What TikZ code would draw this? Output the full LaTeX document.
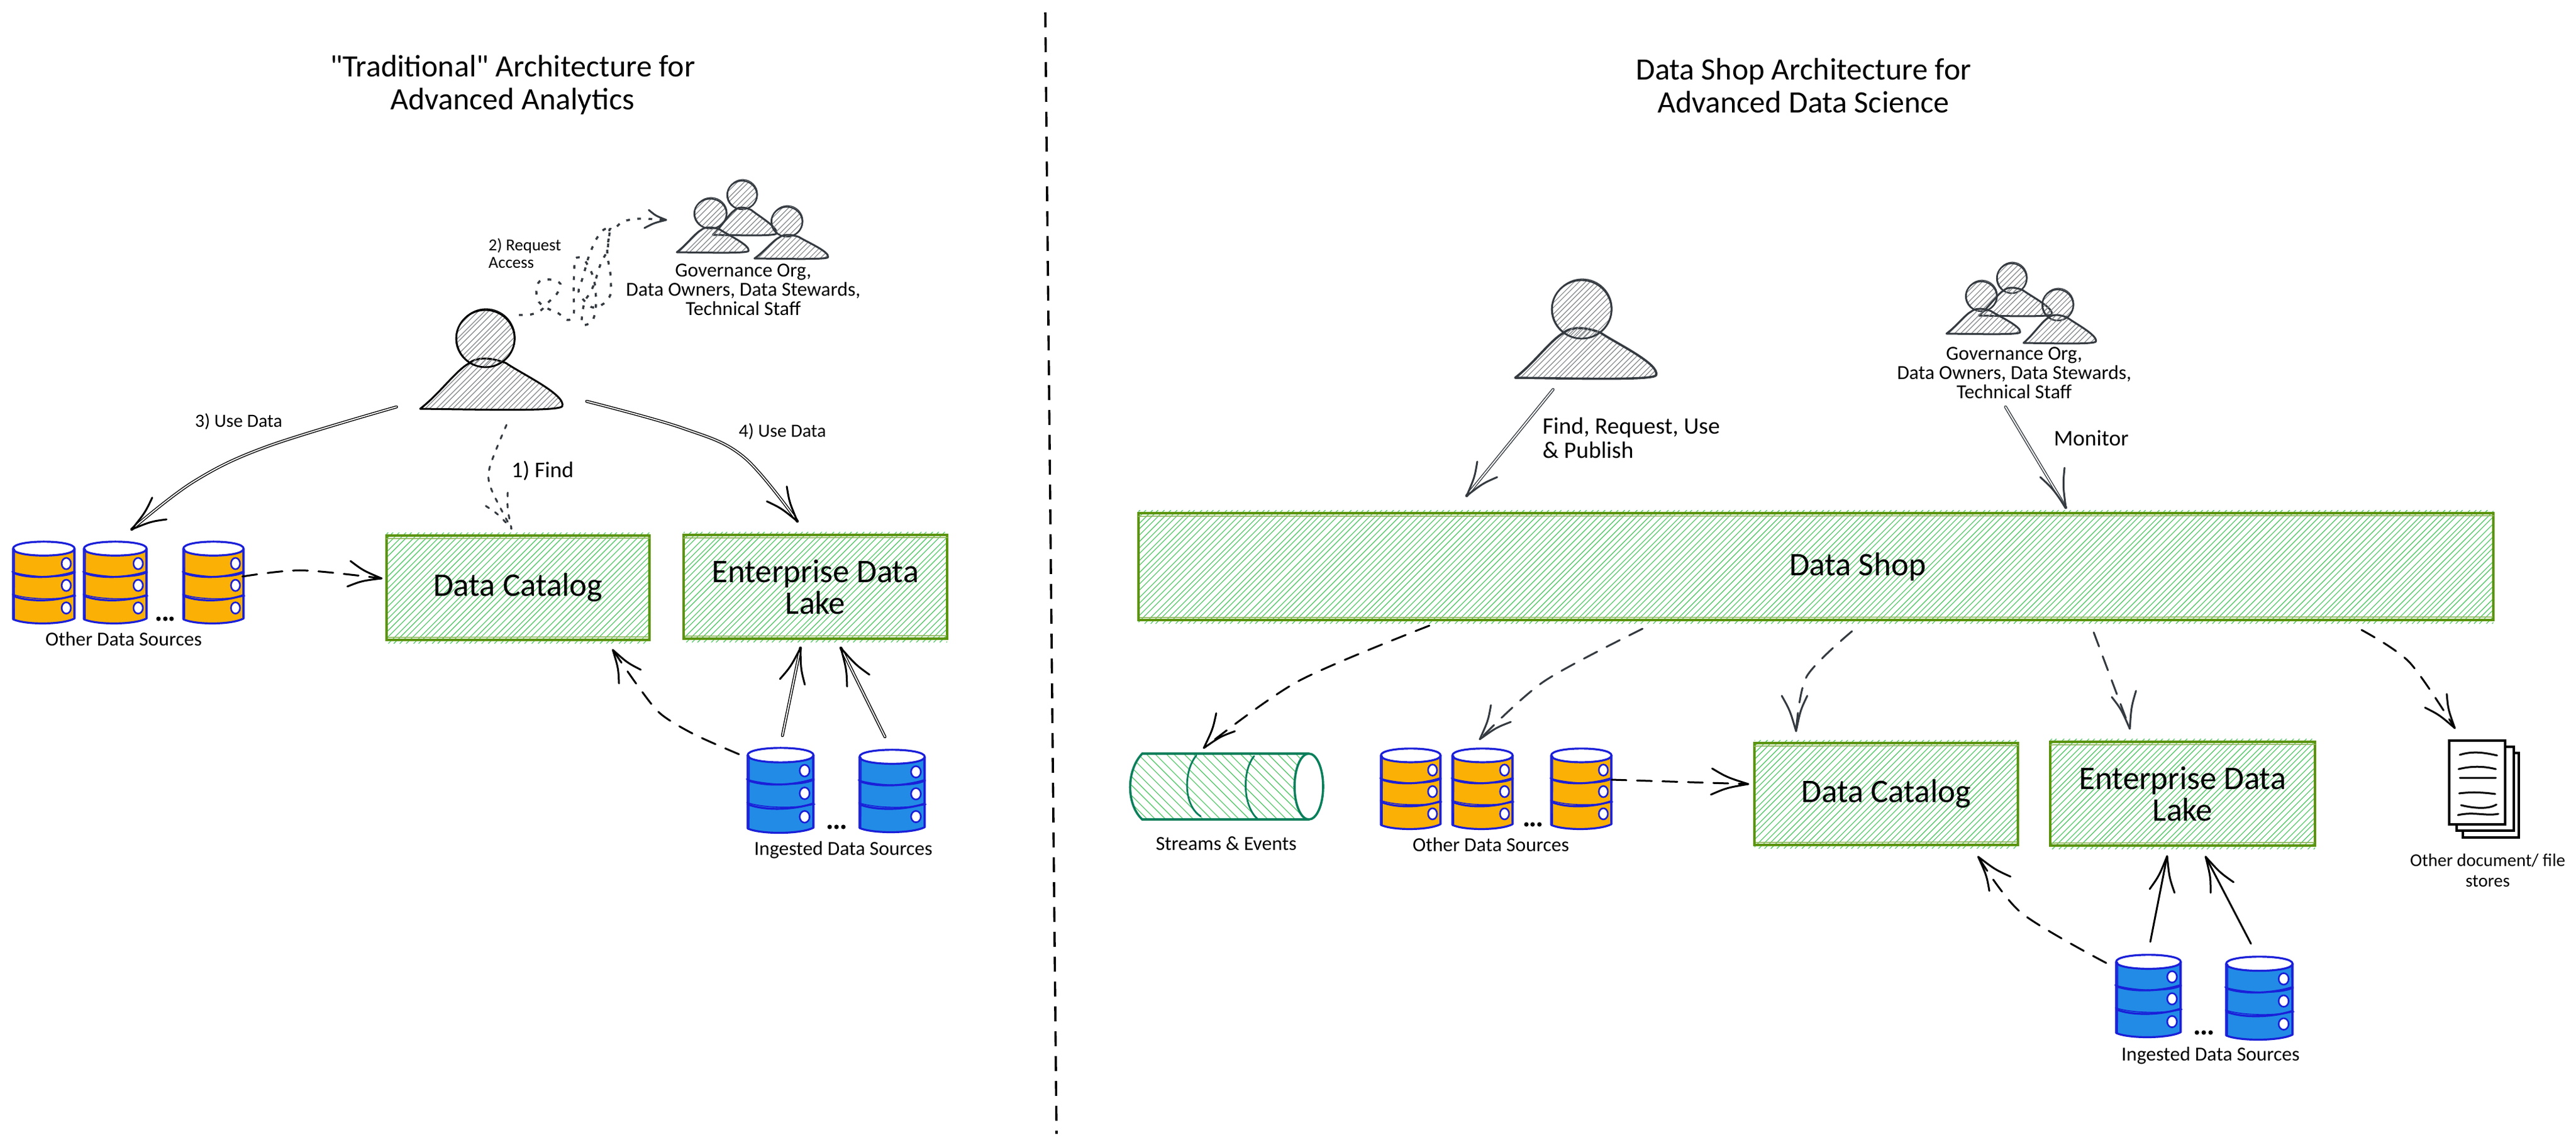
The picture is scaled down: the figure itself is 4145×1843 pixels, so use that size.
\documentclass[tikz,border=0pt]{standalone}
\usepackage{fontspec}
\setmainfont{Carlito}
\newfontfamily\rawfont{Carlito}
\usetikzlibrary{calc}
\definecolor{boxgreen}{HTML}{5C940D}
\definecolor{hatchgreen}{HTML}{40C057}
\definecolor{teal}{HTML}{087F5B}
\definecolor{dark}{HTML}{343A40}
\definecolor{dbblue}{HTML}{1A1FD8}
\definecolor{dbfillblue}{HTML}{228BE6}
\definecolor{dborange}{HTML}{FAB005}
\tikzset{
  lbl/.style={inner sep=0pt,align=center},
  title/.style={lbl,font=\fontsize{50}{53}\selectfont},
  small/.style={lbl,font=\fontsize{32}{31}\selectfont},
  mid/.style={lbl,font=\fontsize{38}{39}\selectfont},
  greenbox/.style={draw=boxgreen,line width=3.6pt,inner sep=0pt,align=center,font=\fontsize{53}{51}\selectfont},
  greenhatch/.style={draw=hatchgreen!85,line width=1.3pt},
  grayhatch/.style={draw=dark!60,line width=1.2pt},
  blackline/.style={draw=black,line width=3pt,line cap=round,line join=round},
  darkline/.style={draw=dark,line width=3pt,line cap=round,line join=round},
  dashline/.style={dash pattern=on 24pt off 17pt},
  dotline/.style={dash pattern=on 6pt off 12pt},
  twin/.style={line width=1.4pt,double,double distance=1.9pt},
  dbline/.style={draw=dbblue,line width=3.2pt,line cap=round,line join=round},
}
\pgfmathsetseed{7}
% x1 y1 x2 y2 spacing style dir
\newcommand{\hatchfill}[7]{%
  \pgfmathsetmacro\hH{(#4)-(#2)}%
  \pgfmathsetmacro\hA{(#1)-\hH}%
  \pgfmathsetmacro\hB{\hA+#5}%
  \pgfmathsetmacro\hC{(#3)+\hH}%
  \foreach \hx in {\hA,\hB,...,\hC}{%
    \pgfmathsetmacro\hj{\hx+3*rnd}%
    \draw[#6] (\hj,#4) -- ({\hj+(#7)*\hH},#2);
  }%
}
% name x1 y1 x2 y2 text
\newcommand{\boxnode}[6]{%
  \begin{scope}
    \clip (#2,#3-5) rectangle (#4,#5+6);
    \hatchfill{#2}{#3-5}{#4}{#5+6}{10}{greenhatch}{1}
  \end{scope}
  \pgfmathsetmacro\bw{#4-#2}\pgfmathsetmacro\bh{#5-#3}%
  \pgfmathsetmacro\bcx{(#2+#4)/2}\pgfmathsetmacro\bcy{(#3+#5)/2}%
  \node[greenbox,minimum width=\bw pt,minimum height=\bh pt] (#1) at (\bcx,\bcy) {#6};
  \draw[draw=boxgreen!70,line width=1.5pt] (#2-1,#3+5) -- (#4+1,#3+4) (#2+2,#5-4) -- (#4-1,#5-5);
}
% name x1 y1 x2 y2 fill
\newcommand{\dbcyl}[6]{%
  \pgfmathsetmacro\cw{#4-#2}\pgfmathsetmacro\ch{#5-#3}%
  \begin{scope}[shift={(#2,#3)},x={(\cw pt,0)},y={(0,-\ch pt)}]
    \coordinate (#1) at (.5,.5);
    \fill[#6] (.01,.085) -- (.01,.96) .. controls (.2,1.02) and (.8,1.02) .. (.99,.96) -- (.99,.085) -- cycle;
    \draw[dbline,fill=white] (0,.085) .. controls (0,-.03) and (1,-.03) .. (1,.085) .. controls (1,.2) and (0,.2) .. (0,.085);
    \draw[dbline] (0,.085) -- (0,.96) .. controls (.2,1.03) and (.8,1.03) .. (1,.95) -- (1,.085);
    \draw[dbline,line width=1.6pt] (.025,.09) -- (.02,.95) (.985,.09) -- (.99,.94);
    \draw[dbline] (0,.385) .. controls (.25,.46) and (.7,.45) .. (1,.37);
    \draw[dbline,line width=1.6pt] (-.02,.37) .. controls (.2,.43) and (.8,.47) .. (1.01,.38);
    \draw[dbline] (0,.67) .. controls (.25,.75) and (.7,.74) .. (1,.66);
    \draw[dbline,line width=1.6pt] (-.01,.65) .. controls (.25,.72) and (.75,.72) .. (1.02,.67);
    \foreach \hy in {.27,.54,.82}
      \draw[dbline,line width=2.6pt,fill=white] (.865,\hy) ellipse [x radius=.075,y radius=.07];
  \end{scope}
}
% name Lx topy Rx boty
\newcommand{\bodypath}[1]{(#1L) .. controls (#1a) and (#1b) .. (#1c) .. controls (#1d) and (#1e) .. (#1f) .. controls (#1g) and (#1h) .. (#1R) .. controls (#1i) and (#1j) .. (#1L) -- cycle}
\newcommand{\bodyshape}[6]{%
  \pgfmathsetmacro\bw{#4-#2}\pgfmathsetmacro\bh{#5-#3}%
  \begin{scope}[shift={(#2,#3)},x={(\bw pt,0)},y={(0,-\bh pt)}]
    \coordinate (#1L) at (0,1);
    \coordinate (#1a) at (.13,.72);
    \coordinate (#1b) at (.25,.24);
    \coordinate (#1c) at (.34,.1);
    \coordinate (#1d) at (.39,-.03);
    \coordinate (#1e) at (.49,-.03);
    \coordinate (#1f) at (.6,.09);
    \coordinate (#1g) at (.72,.32);
    \coordinate (#1h) at (1.02,.72);
    \coordinate (#1R) at (.995,.95);
    \coordinate (#1i) at (.97,1.05);
    \coordinate (#1j) at (.5,1.02);
  \end{scope}
  \begin{scope}
    \clip \bodypath{#1};
    \hatchfill{#2}{#3-3}{#4+2}{#5+4}{9}{grayhatch}{1}
  \end{scope}
  \draw[#6] \bodypath{#1};
}
% name cx cy rx ry style
\newcommand{\headshape}[6]{%
  \coordinate (#1) at (#2,#3);
  \begin{scope}
    \clip (#1) ellipse [x radius=#4pt,y radius=#5pt];
    \hatchfill{#2-#4}{#3-#5}{#2+#4}{#3+#5}{9}{grayhatch}{1}
  \end{scope}
  \draw[#6] (#1) ellipse [x radius=#4pt,y radius=#5pt];
  \draw[#6,line width=1.3pt] (#2+1,#3-1) ellipse [x radius=#4pt,y radius=#5pt+1pt];
}
% tip barb1 barb2 style
\newcommand{\barbs}[4]{%
  \draw[#4] #2 .. controls ($($#2!.5!#1$)!.18!($#2!.5!#3$)$) .. #1 .. controls ($($#3!.5!#1$)!.18!($#3!.5!#2$)$) .. #3;
}
\begin{document}
\begin{tikzpicture}[x=1pt,y=-1pt]
\fill[white] (0,0) rectangle (4145,1843);
\useasboundingbox (0,0) rectangle (4145,1843);

% divider
\coordinate (divT) at (1682,20);
\coordinate (divB) at (1700,1825);
\draw[black,line width=3.6pt,dash pattern=on 24pt off 16pt] (divT) -- (divB);

% titles
\node[title] (titleL) at (825,137) {{\rawfont "}Traditional{\rawfont "} Architecture for\\Advanced Analytics};
\node[title] (titleR) at (2902,138) {Data Shop Architecture for\\Advanced Data Science};

% ---------- LEFT ----------
\boxnode{catL}{622}{862}{1045}{1030}{Data Catalog}
\boxnode{lakeL}{1100}{861}{1524}{1028}{Enterprise Data\\Lake}

\bodyshape{pA}{676}{577}{906}{658}{blackline}
\headshape{pAh}{781}{545}{47}{46}{blackline,line width=2.8pt}

\headshape{gA1}{1194}{314}{24}{23}{darkline,line width=2.4pt}
\bodyshape{gA2}{1147}{334}{1250}{378}{darkline,line width=3pt}
\headshape{gA3}{1143}{344}{26}{24}{darkline,line width=2.4pt}
\bodyshape{gA4}{1089}{366}{1205}{406}{darkline,line width=3pt}
\headshape{gA5}{1266}{357}{25}{24}{darkline,line width=2.4pt}
\bodyshape{gA6}{1214}{378}{1333}{416}{darkline,line width=3pt}

\node[small] (govL) at (1196,466) {Governance Org,\\Data Owners, Data Stewards,\\Technical Staff};
\node[lbl,anchor=west,align=left,font=\fontsize{27}{28}\selectfont] (reqL) at (786,408) {2) Request\\Access};
\node[lbl,font=\fontsize{30}{30}\selectfont] (use3) at (384,679) {3) Use Data};
\node[lbl,font=\fontsize{30}{30}\selectfont] (use4) at (1259,695) {4) Use Data};
\node[lbl,font=\fontsize{36}{36}\selectfont] (find1) at (873,758) {1) Find};

\dbcyl{oL1}{21}{872}{120}{1002}{dborange}
\dbcyl{oL2}{135}{872}{236}{1002}{dborange}
\dbcyl{oL3}{295}{872}{392}{1002}{dborange}
\fill[black] (255,996) circle (3.6) (266,996) circle (3.6) (276,996) circle (3.6);
\node[small] (otherL) at (199,1028) {Other Data Sources};

\dbcyl{bL1}{1203}{1204}{1309}{1339}{dbfillblue}
\dbcyl{bL2}{1383}{1207}{1488}{1338}{dbfillblue}
\fill[black] (1335,1331) circle (3.6) (1346,1331) circle (3.6) (1357,1331) circle (3.6);
\node[small] (ingL) at (1357,1368) {Ingested Data Sources};

% left connectors
\coordinate (a3s) at (638,655); \coordinate (a3t) at (212,852);
\draw[blackline,twin] plot[smooth,tension=.6] coordinates {(a3s) (429,719) (312,775) (a3t)};
\barbs{(a3t)}{(245,801)}{(268,836)}{blackline}

\coordinate (a4s) at (944,646); \coordinate (a4t) at (1283,839);
\draw[blackline,twin] plot[smooth,tension=.6] coordinates {(a4s) (1098,689) (1196,735) (a4t)};
\barbs{(a4t)}{(1266,783)}{(1234,807)}{blackline}

\coordinate (a1s) at (815,684); \coordinate (a1t) at (823,851);
\draw[darkline,dotline] plot[smooth] coordinates {(a1s) (788,752) (790,786) (a1t)};
\barbs{(a1t)}{(817,793)}{(781,814)}{darkline,dotline}

\coordinate (a2s) at (835,507); \coordinate (a2t) at (1072,354);
\draw[darkline,dotline,line cap=butt,line width=3.4pt] plot[smooth,tension=.55] coordinates {(a2s) (855,506) (871,499) (883,486) (896,473) (902,457) (886,450) (868,453) (863,469) (867,486) (882,497) (898,504) (913,515) (923,507) (923,470) (924,433) (926,416) (938,416) (948,431) (955,447) (958,465) (959,483) (958,501) (952,518) (937,523) (937,505) (941,485) (949,472) (957,455) (962,438) (968,421) (977,404) (979,387) (981,369) (971,370) (960,384) (952,401) (946,417) (941,435) (936,452) (931,470) (941,485) (954,495) (971,489) (982,475) (983,457) (982,439) (979,422) (977,404) (979,387) (981,369) (987,370) (1000,358) (1017,353) (1036,352) (a2t)};
\barbs{(a2t)}{(1044,338)}{(1037,367)}{darkline}

\coordinate (c1s) at (390,928); \coordinate (c1t) at (614,931);
\draw[blackline,dashline] plot[smooth] coordinates {(c1s) (485,918) (c1t)};
\barbs{(c1t)}{(564,903)}{(559,944)}{blackline}

\coordinate (d1s) at (1189,1214); \coordinate (d1t) at (986,1046);
\draw[blackline,dashline] plot[smooth] coordinates {(d1s) (1117,1182) (1063,1149) (1027,1105) (d1t)};
\barbs{(d1t)}{(996,1100)}{(1031,1078)}{blackline}

\coordinate (e1s) at (1259,1184); \coordinate (e1t) at (1288,1043);
\draw[blackline,twin] (e1s) -- (e1t);
\barbs{(e1t)}{(1255,1093)}{(1295,1102)}{blackline}
\coordinate (e2s) at (1424,1186); \coordinate (e2t) at (1353,1043);
\draw[blackline,twin] (e2s) -- (e2t);
\barbs{(e2t)}{(1363,1105)}{(1399,1086)}{blackline}

% ---------- RIGHT ----------
\boxnode{shop}{1832}{826}{4012}{998}{\hspace*{134pt}Data Shop}
\boxnode{catR}{2823}{1196}{3247}{1360}{Data Catalog}
\boxnode{lakeR}{3299}{1194}{3725}{1361}{Enterprise Data\\Lake}

\bodyshape{pB}{2438}{528}{2666}{608}{darkline,line width=3.6pt}
\headshape{pBh}{2545}{498}{48}{47}{darkline,line width=2.8pt}

\headshape{gB1}{3237}{448}{24}{24}{darkline,line width=2.4pt}
\bodyshape{gB2}{3184}{463}{3302}{508}{darkline,line width=3pt}
\headshape{gB3}{3188}{477}{25}{24}{darkline,line width=2.4pt}
\bodyshape{gB4}{3132}{497}{3251}{537}{darkline,line width=3pt}
\headshape{gB5}{3311}{491}{25}{25}{darkline,line width=2.4pt}
\bodyshape{gB6}{3256}{507}{3373}{552}{darkline,line width=3pt}

\node[small] (govR) at (3241,600) {Governance Org,\\Data Owners, Data Stewards,\\Technical Staff};
\node[mid,anchor=west,align=left] (findR) at (2482,705) {Find, Request, Use\\\& Publish};
\node[lbl,font=\fontsize{36}{36}\selectfont] (monR) at (3365,705) {Monitor};

\dbcyl{oR1}{2222}{1205}{2318}{1333}{dborange}
\dbcyl{oR2}{2337}{1205}{2434}{1333}{dborange}
\dbcyl{oR3}{2496}{1205}{2593}{1333}{dborange}
\fill[black] (2456,1327) circle (3.6) (2466,1327) circle (3.6) (2477,1327) circle (3.6);
\node[small] (otherR) at (2399,1359) {Other Data Sources};

\dbcyl{bR1}{3405}{1537}{3509}{1668}{dbfillblue}
\dbcyl{bR2}{3582}{1540}{3689}{1672}{dbfillblue}
\fill[black] (3535,1662) circle (3.6) (3546,1662) circle (3.6) (3557,1662) circle (3.6);
\node[small] (ingR) at (3557,1699) {Ingested Data Sources};

% streams
\begin{scope}
  \clip (1838,1213) -- (2106,1213) -- (2106,1319) -- (1838,1319) .. controls (1812,1295) and (1812,1240) .. (1838,1213);
  \hatchfill{1815}{1213}{2106}{1319}{15}{greenhatch}{-1}
\end{scope}
\draw[draw=teal,line width=3.6pt,fill=white] (2106,1266) ellipse [x radius=23pt,y radius=53pt];
\draw[draw=teal,line width=3.6pt,line cap=round] (2106,1213) -- (1838,1213) .. controls (1812,1240) and (1812,1295) .. (1838,1319) -- (2106,1319);
\draw[draw=teal,line width=2.8pt,line cap=round] (1925,1216) .. controls (1905,1240) and (1903,1295) .. (1932,1314) (2018,1217) .. controls (1999,1240) and (1999,1295) .. (2023,1318);
\coordinate (strm) at (1973,1266);
\node[small] (streamL) at (1973,1358) {Streams \& Events};

% documents
\coordinate (docs) at (3990,1260);
\draw[black,line width=4pt,fill=white] (3963,1212) rectangle (4053,1348);
\draw[black,line width=4pt,fill=white] (3953,1202) rectangle (4045,1337);
\draw[black,line width=4pt,fill=white] (3941,1192) rectangle (4031,1327);
\draw[blackline] (3958,1215) .. controls (3980,1208) and (4000,1212) .. (4018,1216)
  (3956,1238) .. controls (3980,1232) and (4000,1234) .. (4016,1238)
  (3958,1252) -- (4016,1252)
  (3957,1277) .. controls (3980,1274) and (4000,1276) .. (4015,1278)
  (3960,1296) .. controls (3985,1302) and (4005,1302) .. (4017,1295)
  (3955,1312) .. controls (3980,1306) and (4000,1314) .. (4020,1310);
\node[lbl,font=\fontsize{29}{33}\selectfont] (docL) at (4003,1401) {Other document/ file\\stores};

% right connectors
\coordinate (f1s) at (2499,627); \coordinate (f1t) at (2360,798);
\draw[darkline,twin] (f1s) -- (f1t);
\barbs{(f1t)}{(2377,743)}{(2409,768)}{darkline}
\coordinate (f2s) at (3227,655); \coordinate (f2t) at (3324,817);
\draw[darkline,twin] (f2s) -- (f2t);
\barbs{(f2t)}{(3322,753)}{(3283,768)}{darkline}

\coordinate (g1s) at (2300,1007); \coordinate (g1t) at (1937,1204);
\draw[blackline,dashline] plot[smooth] coordinates {(g1s) (2088,1097) (g1t)};
\barbs{(g1t)}{(1957,1148)}{(1987,1177)}{blackline}
\coordinate (g2s) at (2643,1012); \coordinate (g2t) at (2381,1190);
\draw[darkline,dashline] plot[smooth] coordinates {(g2s) (2484,1097) (g2t)};
\barbs{(g2t)}{(2399,1135)}{(2431,1162)}{darkline}
\coordinate (g3s) at (2980,1016); \coordinate (g3t) at (2890,1177);
\draw[darkline,dashline] plot[smooth] coordinates {(g3s) (2907,1089) (g3t)};
\barbs{(g3t)}{(2867,1120)}{(2908,1120)}{darkline}
\coordinate (g4s) at (3369,1018); \coordinate (g4t) at (3427,1173);
\draw[darkline,dashline] (g4s) -- (g4t);
\barbs{(g4t)}{(3437,1112)}{(3398,1122)}{darkline}
\coordinate (g5s) at (3800,1014); \coordinate (g5t) at (3950,1172);
\draw[blackline,dashline] plot[smooth] coordinates {(g5s) (3877,1066) (g5t)};
\barbs{(g5t)}{(3937,1117)}{(3902,1139)}{blackline}

\coordinate (c2s) at (2593,1255); \coordinate (c2t) at (2813,1262);
\draw[blackline,dashline] (c2s) -- (c2t);
\barbs{(c2t)}{(2755,1237)}{(2753,1279)}{blackline}

\coordinate (d2s) at (3389,1550); \coordinate (d2t) at (3183,1379);
\draw[blackline,dashline] plot[smooth] coordinates {(d2s) (3252,1469) (d2t)};
\barbs{(d2t)}{(3201,1434)}{(3235,1411)}{blackline}

\coordinate (e3s) at (3460,1516); \coordinate (e3t) at (3487,1378);
\draw[blackline,line width=3pt] (e3s) -- (e3t);
\barbs{(e3t)}{(3459,1431)}{(3499,1437)}{blackline}
\coordinate (e4s) at (3622,1519); \coordinate (e4t) at (3549,1379);
\draw[blackline,line width=3pt] (e4s) -- (e4t);
\barbs{(e4t)}{(3557,1437)}{(3594,1420)}{blackline}
\end{tikzpicture}
\end{document}
